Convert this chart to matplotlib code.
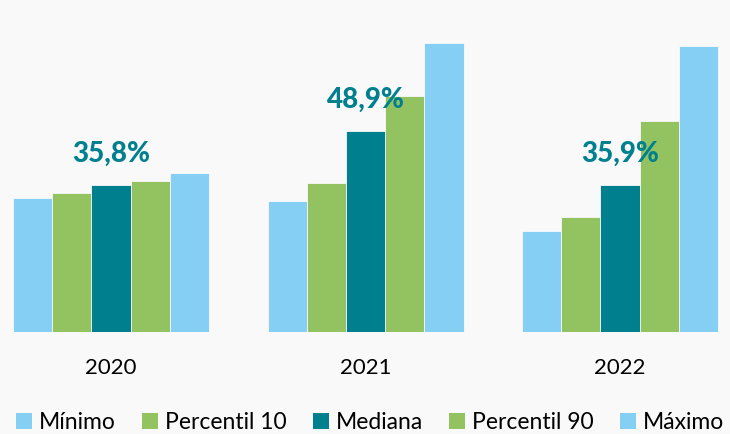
import numpy as np
import matplotlib.pyplot as plt
from matplotlib.patches import Patch

years = ['2020', '2021', '2022']
series = ['Mínimo', 'Percentil 10', 'Mediana', 'Percentil 90', 'Máximo']
minimo = [32.7, 31.9, 24.6]
p10 = [33.8, 36.3, 27.9]
mediana = [35.8, 48.9, 35.9]
p90 = [36.7, 57.4, 51.3]
maximo = [38.8, 70.3, 69.7]
median_labels = ['35,8%', '48,9%', '35,9%']

blue = '#85CFF4'
green = '#93C360'
teal = '#007F8F'
bg = '#F9F9F9'
colors = [blue, green, teal, green, blue]
values = [minimo, p10, mediana, p90, maximo]

plt.rcParams['font.family'] = ['Lato', 'DejaVu Sans']

fig = plt.figure(figsize=(7.30, 4.34), dpi=100, facecolor=bg)
ax = fig.add_axes([0, 0.235, 1, 0.71])
ax.set_facecolor(bg)

x = np.arange(len(years))
w = 0.154
for i, (vals, c) in enumerate(zip(values, colors)):
    ax.bar(x + (i - 2) * w, vals, width=w, color=c, edgecolor=bg, linewidth=0.6, zorder=2 if i != 2 else 3)

for xi, v, lab in zip(x, mediana, median_labels):
    ax.annotate(lab, (xi, v), xytext=(0, 13), textcoords='offset points',
                ha='center', va='bottom', fontsize=20, fontweight='black', color=teal)

ax.set_xlim(-0.436, 2.432)
ax.set_ylim(0, 75)
ax.set_xticks(x)
ax.set_xticklabels(years, fontsize=16)
ax.tick_params(axis='x', length=0, pad=19)
ax.set_yticks([])
for s in ax.spines.values():
    s.set_visible(False)

handles = [Patch(facecolor=c, edgecolor='none') for c in colors]
fig.legend(handles, series, loc='center', bbox_to_anchor=(0.507, 0.026), ncol=5,
           frameon=False, fontsize=16.5, handlelength=0.7, handleheight=0.7,
           handletextpad=0.3, columnspacing=1.15, borderaxespad=0)

fig.savefig('out.png', dpi=100, facecolor=bg)
